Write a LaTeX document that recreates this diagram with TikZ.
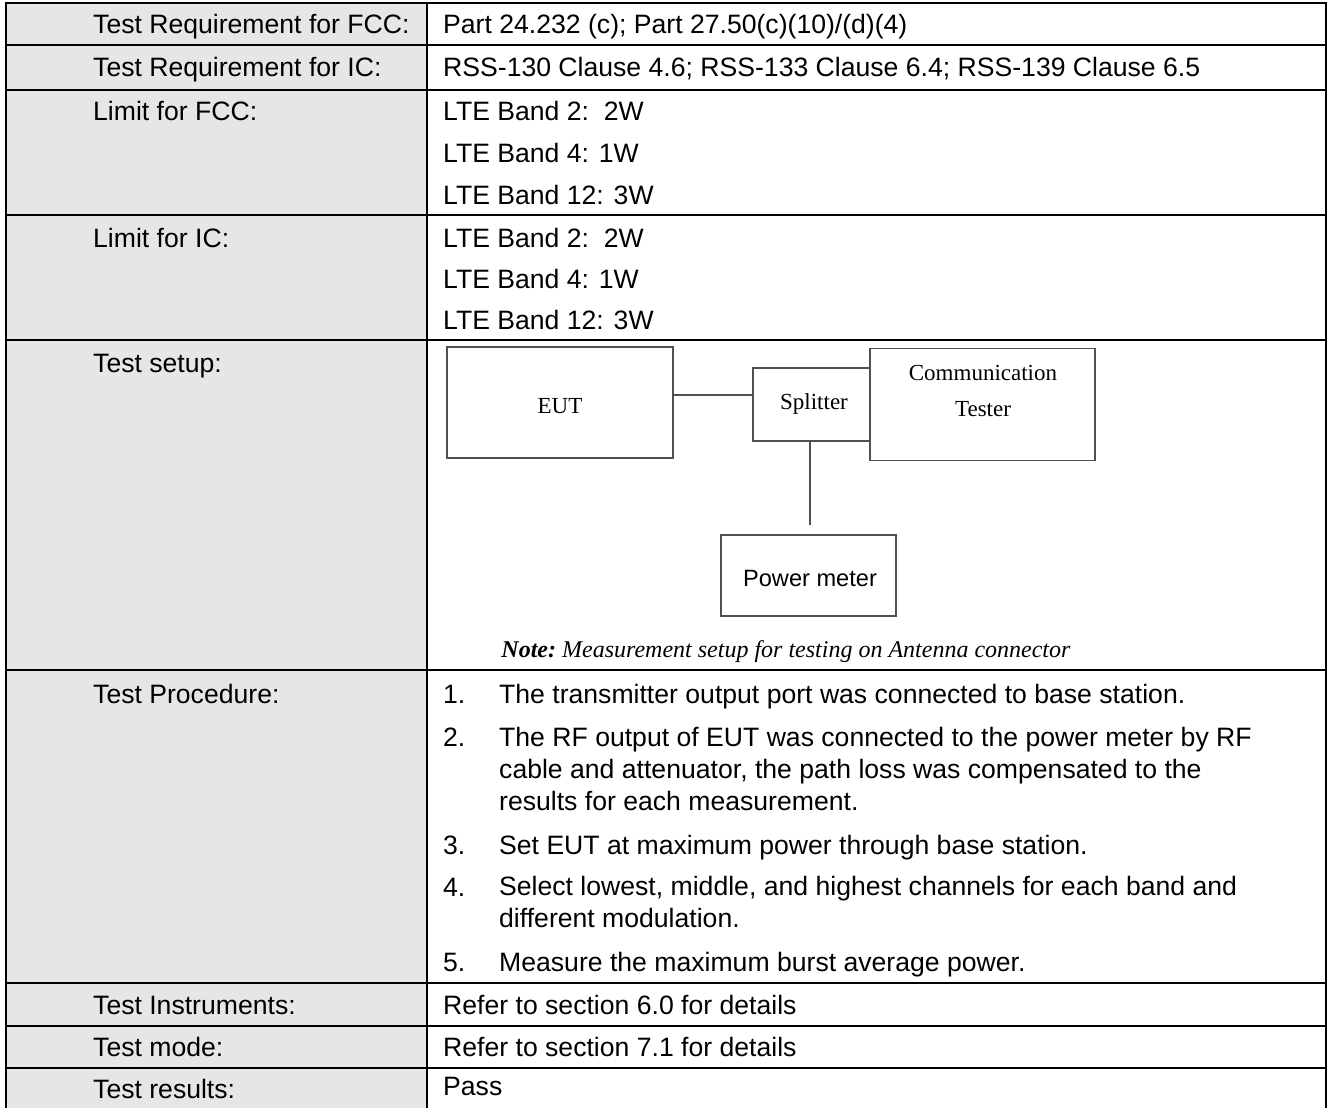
\documentclass[tikz,border=0pt]{standalone}
\usepackage{fontspec}
\setmainfont{Liberation Sans}
\newfontfamily\serifdiag{Liberation Serif}
\definecolor{cellgray}{RGB}{230,230,230}
\definecolor{diagline}{RGB}{80,80,80}
\begin{document}
\begin{tikzpicture}[x=1pt,y=-1pt,
  tblline/.style={line width=2.6pt, black},
  lbl/.style={anchor=base west, inner sep=0pt, font=\fontsize{26.6}{32}\selectfont},
  para/.style={anchor=base west, inner sep=0pt, font=\fontsize{26.6}{32}\selectfont, align=left},
  dbox/.style={draw=diagline, line width=1.3pt, inner sep=0pt, fill=white},
  dtext/.style={font=\serifdiag\fontsize{23}{36}\selectfont, inner sep=0pt, align=center},
  conn/.style={draw=diagline, line width=1.3pt}]
\useasboundingbox (0,0) rectangle (1328,1108);
% left column shading
\fill[cellgray] (6,3) rectangle (427,1108);
% table rules
\draw[tblline] (6,1108) -- (6,3) -- (1326,3) -- (1326,1108);
\draw[tblline] (427,3) -- (427,1108);
\foreach \yy in {45,90,215,340,670,983,1026,1068} \draw[tblline] (6,\yy) -- (1326,\yy);

% left labels
\node[lbl] (l1) at (93,34) {Test Requirement for FCC:};
\node[lbl] (l2) at (93,77) {Test Requirement for IC:};
\node[lbl] (l3) at (93,121) {Limit for FCC:};
\node[lbl] (l4) at (93,247) {Limit for IC:};
\node[lbl] (l5) at (93,372) {Test setup:};
\node[lbl] (l6) at (93,703) {Test Procedure:};
\node[lbl] (l7) at (93,1014) {Test Instruments:};
\node[lbl] (l8) at (93,1056) {Test mode:};
\node[lbl] (l9) at (93,1098) {Test results:};

% right column
\node[lbl] (r1) at (443,34) {Part 24.232 (c); Part 27.50(c)(10)/(d)(4)};
\node[lbl] (r2) at (443,77) {RSS-130 Clause 4.6; RSS-133 Clause 6.4; RSS-139 Clause 6.5};
\node[lbl] (r3a) at (443,121) {LTE Band 2:\ \ 2W};
\node[lbl] (r3b) at (443,162) {LTE Band 4: 1W};
\node[lbl] (r3c) at (443,204) {LTE Band 12: 3W};
\node[lbl] (r4a) at (443,247) {LTE Band 2:\ \ 2W};
\node[lbl] (r4b) at (443,288) {LTE Band 4: 1W};
\node[lbl] (r4c) at (443,329) {LTE Band 12: 3W};

% procedure (multi-line nodes are placed by the baseline of their last line)
\node[lbl] (n1) at (443,703) {1.};
\node[para] (p1) at (499,703) {The transmitter output port was connected to base station.};
\node[lbl] (n2) at (443,746) {2.};
\node[para] (p2) at (499,810) {The RF output of EUT was connected to the power meter by RF\\cable and attenuator, the path loss was compensated to the\\results for each measurement.};
\node[lbl] (n3) at (443,854) {3.};
\node[para] (p3) at (499,854) {Set EUT at maximum power through base station.};
\node[lbl] (n4) at (443,896) {4.};
\node[para] (p4) at (499,927) {Select lowest, middle, and highest channels for each band and\\different modulation.};
\node[lbl] (n5) at (443,971) {5.};
\node[para] (p5) at (499,971) {Measure the maximum burst average power.};

\node[lbl] (r7) at (443,1014) {Refer to section 6.0 for details};
\node[lbl] (r8) at (443,1056) {Refer to section 7.1 for details};
\node[lbl] (r9) at (443,1095) {Pass};

% setup diagram
\node[dbox, minimum width=226pt, minimum height=111pt] (eut) at (560,402.5) {};
\node[dtext] (euttxt) at (560,406) {EUT};
\node[dbox, minimum width=117pt, minimum height=73pt] (split) at (811.5,404.5) {};
\node[dtext] (splittxt) at (814,404) {Splitter};
\node[dbox, line width=1.5pt, minimum width=225pt, minimum height=112pt] (comm) at (982.5,404.5) {};
\node[dtext] (commtxt) at (983,391) {Communication\\Tester};
\node[dbox, minimum width=175pt, minimum height=81pt] (pm) at (808.5,575.5) {};
\node[inner sep=0pt, font=\fontsize{23.6}{28}\selectfont] (pmtxt) at (810,578) {Power meter};
\draw[conn] ([yshift=7.5pt]eut.east) -- ([yshift=7.5pt]eut.east -| split.west);
\draw[conn] (split.south -| 810,0) -- ([yshift=9pt]pm.north -| 810,0);
\node[font=\serifdiag\fontsize{24}{28}\selectfont, inner sep=0pt, anchor=base] (note) at (786,657)
  {\textbf{\textit{Note:}}\ \textit{Measurement setup for testing on Antenna connector}};
\end{tikzpicture}
\end{document}
